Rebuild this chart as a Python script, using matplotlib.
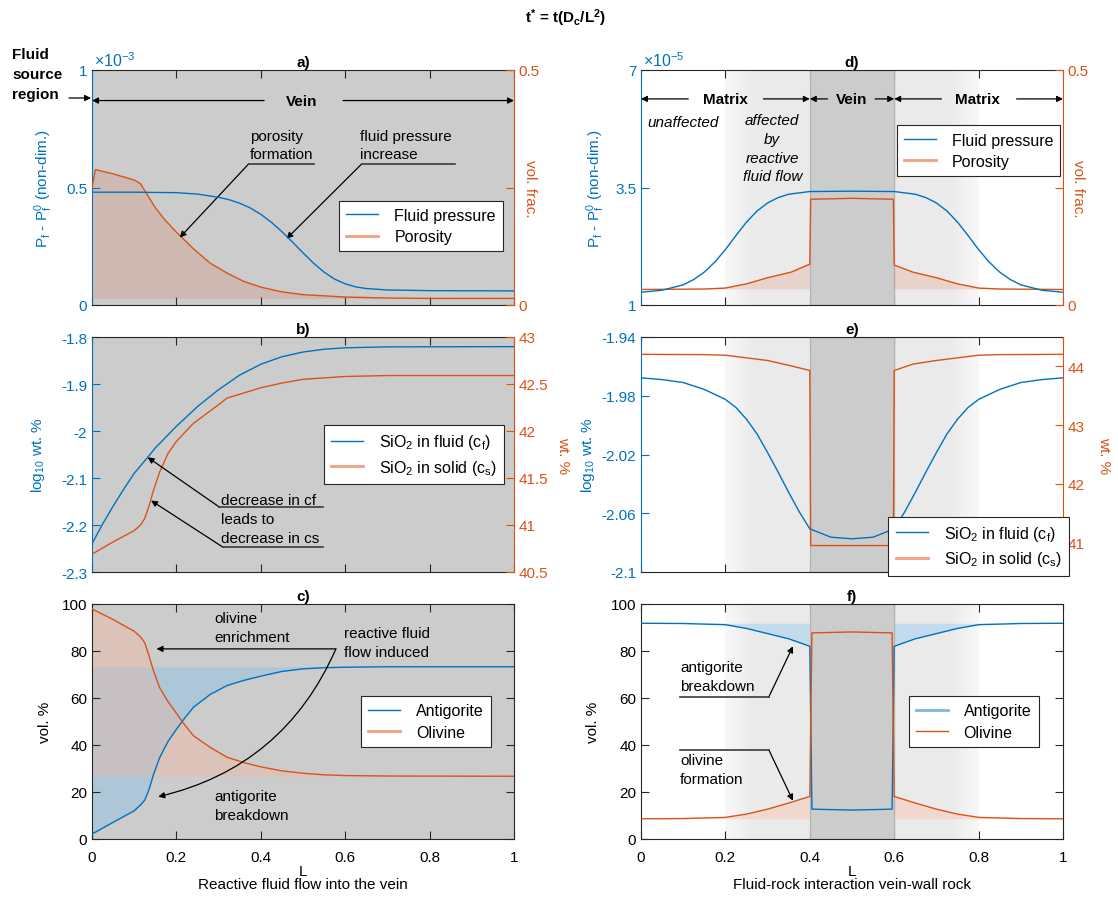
import numpy as np
import matplotlib
matplotlib.use("Agg")
import matplotlib.pyplot as plt
from matplotlib.lines import Line2D
from matplotlib.patches import Rectangle

plt.rcParams.update({
    "font.family": ["Liberation Sans", "DejaVu Sans"],
    "mathtext.fontset": "custom",
    "mathtext.rm": "Liberation Sans",
    "mathtext.it": "Liberation Sans:italic",
    "mathtext.bf": "Liberation Sans:bold",
    "axes.unicode_minus": False,
    "font.size": 11,
})

BLUE = "#0072BD"
ORANGE = "#D95319"
BLUE_SOFT = "#7DB6DC"
ORANGE_SOFT = "#EFA07E"
GRAY = "#CCCCCC"
DARK = "#262626"
LS = 1.42  # line spacing of the multi-line notes

# ---------------- a) vein: fluid pressure (x1e-3) and porosity
L_a_press = [0, 0.1, 0.2, 0.25, 0.3, 0.325, 0.35, 0.375, 0.4, 0.425, 0.45, 0.475,
             0.5, 0.525, 0.55, 0.575, 0.6, 0.625, 0.65, 0.7, 0.8, 1.0]
press_a = [0.48, 0.48, 0.478, 0.472, 0.458, 0.448, 0.433, 0.413, 0.386, 0.352,
           0.312, 0.268, 0.222, 0.178, 0.14, 0.11, 0.09, 0.077, 0.07, 0.064, 0.061,
           0.06]
L_a_por = [0, 0.008, 0.05, 0.1, 0.115, 0.13, 0.15, 0.17, 0.2, 0.24, 0.28, 0.32,
           0.36, 0.4, 0.45, 0.5, 0.6, 0.7, 0.8, 1.0]
por_a = [0.249, 0.288, 0.279, 0.266, 0.258, 0.236, 0.207, 0.184, 0.155, 0.12, 0.089,
         0.068, 0.05, 0.038, 0.028, 0.022, 0.017, 0.0148, 0.014, 0.014]

# ---------------- b) vein: SiO2 in fluid (log10 wt.%) and in solid (wt.%)
L_b_cf = [0, 0.025, 0.05, 0.075, 0.1, 0.132, 0.15, 0.2, 0.25, 0.3, 0.35, 0.4, 0.45,
          0.5, 0.55, 0.6, 0.7, 1.0]
cf_b = [-2.24, -2.198, -2.16, -2.124, -2.09, -2.056, -2.036, -1.99, -1.948, -1.912,
        -1.881, -1.858, -1.842, -1.832, -1.826, -1.823, -1.821, -1.8205]
L_b_cs = [0, 0.05, 0.1, 0.115, 0.125, 0.135, 0.145, 0.16, 0.18, 0.2, 0.24, 0.3,
          0.32, 0.4, 0.45, 0.5, 0.6, 0.7, 1.0]
cs_b = [40.69, 40.82, 40.94, 41.0, 41.07, 41.2, 41.36, 41.56, 41.76, 41.89, 42.08,
        42.28, 42.35, 42.46, 42.51, 42.55, 42.58, 42.59, 42.59]

# ---------------- c) vein: mineral modes (vol.%)
L_c = [0, 0.05, 0.1, 0.115, 0.125, 0.135, 0.145, 0.16, 0.18, 0.2, 0.22, 0.24, 0.28,
       0.32, 0.36, 0.4, 0.45, 0.5, 0.55, 0.6, 0.7, 1.0]
atg_c = [2.1, 7.1, 12.0, 14.5, 16.5, 21.0, 27.0, 34.5, 41.5, 46.7, 51.5, 56.0, 61.5,
         65.3, 67.5, 69.3, 71.3, 72.4, 72.9, 73.1, 73.3, 73.3]
ol_c = [97.9, 93.4, 88.4, 86.0, 83.5, 78.0, 72.0, 64.5, 58.5, 53.5, 48.5, 44.0, 39.0,
        34.8, 32.5, 30.7, 29.0, 28.0, 27.3, 27.0, 26.8, 26.7]

# ---------------- d) vein-wall rock: fluid pressure (x1e-5) and porosity
L_d_press = [0, 0.05, 0.1, 0.125, 0.15, 0.175, 0.2, 0.225, 0.25, 0.275, 0.3, 0.325,
             0.35, 0.4, 0.5, 0.6, 0.65, 0.675, 0.7, 0.725, 0.75, 0.775, 0.8, 0.825,
             0.85, 0.875, 0.9, 0.95, 1.0]
press_d = [0.38, 0.44, 0.6, 0.76, 0.98, 1.28, 1.65, 2.07, 2.47, 2.8, 3.04, 3.2, 3.3,
           3.38, 3.39, 3.38, 3.3, 3.2, 3.04, 2.8, 2.47, 2.07, 1.65, 1.28, 0.98, 0.76,
           0.6, 0.44, 0.38]
L_d_por = [0, 0.15, 0.2, 0.25, 0.3, 0.356, 0.4, 0.402, 0.5, 0.598, 0.6, 0.644, 0.7,
           0.75, 0.8, 0.85, 1.0]
por_d = [0.033, 0.034, 0.036, 0.045, 0.058, 0.07, 0.087, 0.225, 0.227, 0.225, 0.085,
         0.07, 0.058, 0.045, 0.036, 0.034, 0.033]

# ---------------- e) vein-wall rock: SiO2 in fluid and in solid
L_e_cf = [0, 0.05, 0.1, 0.15, 0.2, 0.225, 0.25, 0.275, 0.3, 0.325, 0.35, 0.375, 0.4,
          0.45, 0.5, 0.55, 0.6, 0.625, 0.65, 0.675, 0.7, 0.725, 0.75, 0.775, 0.8,
          0.85, 0.9, 0.95, 1.0]
cf_e = [-1.9678, -1.969, -1.971, -1.9757, -1.9825, -1.988, -1.996, -2.006, -2.0187,
        -2.032, -2.0458, -2.059, -2.0706, -2.0763, -2.0774, -2.0763, -2.0706, -2.059,
        -2.0458, -2.032, -2.0187, -2.006, -1.996, -1.988, -1.9825, -1.9757, -1.971,
        -1.969, -1.9678]
L_e_cs = [0, 0.15, 0.2, 0.3, 0.355, 0.4, 0.402, 0.5, 0.598, 0.6, 0.645, 0.7, 0.8,
          0.85, 1.0]
cs_e = [44.205, 44.2, 44.19, 44.1, 44.01, 43.93, 40.95, 40.95, 40.95, 43.93, 44.04,
        44.1, 44.19, 44.2, 44.205]

# ---------------- f) vein-wall rock: mineral modes (vol.%)
L_f = [0, 0.1, 0.2, 0.25, 0.3, 0.35, 0.4, 0.405, 0.5, 0.595, 0.6, 0.65, 0.7, 0.75,
       0.8, 0.9, 1.0]
atg_f = [91.8, 91.7, 91.2, 89.6, 87.4, 85.2, 82.0, 12.7, 12.3, 12.7, 82.0, 85.2, 87.4,
         89.6, 91.2, 91.7, 91.8]
ol_f = [8.6, 8.7, 9.2, 10.6, 12.7, 15.3, 18.1, 87.7, 88.1, 87.7, 18.1, 15.3, 12.7,
        10.6, 9.2, 8.7, 8.6]

X_TICKS = [0, 0.2, 0.4, 0.6, 0.8, 1.0]
X_LABELS = ["0", "0.2", "0.4", "0.6", "0.8", "1"]

W, H = 1118, 920
fig = plt.figure(figsize=(W / 100, H / 100), dpi=100)


def box(x0, y0, x1, y1):
    return [x0 / W, 1 - y1 / H, (x1 - x0) / W, (y1 - y0) / H]


COLS = [(92, 514), (641, 1063)]
ROWS = [(71, 306), (338, 573), (605, 840)]


def base_axes(col, row, facecolor, title, xlabels=False):
    ax = fig.add_axes(box(COLS[col][0], ROWS[row][0], COLS[col][1], ROWS[row][1]))
    ax.set_facecolor(facecolor)
    ax.set_xlim(0, 1)
    ax.set_xticks(X_TICKS)
    ax.set_xticklabels(X_LABELS)
    ax.tick_params(axis="x", direction="in", top=True, bottom=True, length=6,
                   width=0.8, color=DARK, labelsize=11, pad=8,
                   labelbottom=xlabels)
    for s in ax.spines.values():
        s.set_linewidth(0.8)
        s.set_color(DARK)
    ax.set_title(title, fontsize=11, fontweight="bold", pad=3)
    if xlabels:
        ax.set_xlabel("L", fontsize=11, labelpad=0)
    return ax


def add_twin(ax):
    ax2 = ax.twinx()
    ax.spines["left"].set_color(BLUE)
    ax.spines["right"].set_visible(False)
    ax.tick_params(axis="y", direction="in", length=6, width=0.8, colors=BLUE,
                   labelsize=11, left=True, right=False)
    for s in ("left", "top", "bottom"):
        ax2.spines[s].set_visible(False)
    ax2.spines["right"].set_color(ORANGE)
    ax2.spines["right"].set_linewidth(0.8)
    ax2.tick_params(axis="y", direction="in", length=6, width=0.8, colors=ORANGE,
                    labelsize=11)
    return ax2


def plain_y(ax):
    ax.set_ylim(0, 100)
    ax.set_yticks([0, 20, 40, 60, 80, 100])
    ax.tick_params(axis="y", direction="in", left=True, right=True, length=6,
                   width=0.8, color=DARK, labelsize=11)
    ax.set_ylabel("vol. %", fontsize=11)


def arrow(ax, tail, head, coords, rad=0.0):
    ax.annotate("", xy=head, xycoords=coords, xytext=tail, textcoords=coords,
                arrowprops=dict(arrowstyle="-|>", color="k", lw=0.9,
                                mutation_scale=9, shrinkA=0, shrinkB=0,
                                connectionstyle=f"arc3,rad={rad}"),
                annotation_clip=False)


def rule(ax, xs, y, coords):
    ax.plot(xs, [y, y], transform=coords, color="#3a3a3a", lw=1.2, clip_on=False,
            zorder=6)


def legend(ax, labels, soft, center):
    handles = []
    for i, lab in enumerate(labels):
        base = BLUE if i == 0 else ORANGE
        if i == soft:
            handles.append(Line2D([], [], color=BLUE_SOFT if i == 0 else ORANGE_SOFT,
                                  lw=2))
        else:
            handles.append(Line2D([], [], color=base, lw=1))
    leg = ax.legend(handles, labels, loc="center", bbox_to_anchor=center,
                    fontsize=11.5, handlelength=2.0, handletextpad=1.0,
                    borderpad=0.45, labelspacing=0.4, frameon=True,
                    fancybox=False, edgecolor=DARK, framealpha=1,
                    borderaxespad=0)
    leg.get_frame().set_linewidth(0.8)
    leg.set_zorder(10)


def matrix_background(ax, ylim):
    Lg = np.linspace(0, 1, 1001)
    shade = np.ones_like(Lg)
    left = (Lg >= 0.2) & (Lg < 0.4)
    right = (Lg > 0.6) & (Lg <= 0.8)
    shade[left] = np.clip(0.97 - (Lg[left] - 0.2) / 0.07 * 0.05, 0.92, 1)
    shade[right] = np.clip(0.97 - (0.8 - Lg[right]) / 0.07 * 0.05, 0.92, 1)
    img = np.repeat(shade[None, :, None], 3, axis=2)
    ax.imshow(img, extent=(0, 1, ylim[0], ylim[1]), aspect="auto",
              interpolation="bilinear", origin="lower", zorder=0)
    ax.add_patch(Rectangle((0.4, 0), 0.2, 1, transform=ax.get_xaxis_transform(),
                           facecolor=GRAY, edgecolor="#b3b3b3", lw=1, zorder=2))
    ax.set_xlim(0, 1)
    ax.set_ylim(*ylim)


# ================= a)
ax = base_axes(0, 0, GRAY, "a)")
ax2 = add_twin(ax)
ax2.fill_between(L_a_por, por_a, min(por_a), color=ORANGE, alpha=0.15, lw=0, zorder=1)
ax2.plot(L_a_por, por_a, color=ORANGE, lw=1, zorder=3)
ax2.plot(L_a_press, press_a, color=BLUE, lw=1, zorder=4, transform=ax.transData)
ax.set_ylim(0, 1)
ax.set_yticks([0, 0.5, 1])
ax.set_yticklabels(["0", "0.5", "1"])
ax2.set_ylim(0, 0.5)
ax2.set_yticks([0, 0.25, 0.5])
ax2.set_yticklabels(["0", "", "0.5"])
ax.set_ylabel(r"P$_\mathrm{f}$ - P$_\mathrm{f}^\mathrm{0}$ (non-dim.)", color=BLUE,
              fontsize=11)
ax.yaxis.set_label_coords(-0.087, 0.5)
ax2.set_ylabel("vol. frac.", color=ORANGE, fontsize=11, rotation=270, va="bottom")
ax2.yaxis.set_label_coords(1.021, 0.5)
ax.text(0.005, 1.005, "×10$^{-3}$", transform=ax.transAxes, color=BLUE,
        fontsize=11.5, ha="left", va="bottom")
T = ax2.transAxes
ax2.text(0.375, 0.612, "porosity\nformation", transform=T, ha="left", va="bottom",
         fontsize=11, linespacing=LS, zorder=6)
rule(ax2, [0.371, 0.527], 0.60, T)
arrow(ax2, (0.371, 0.60), (0.208, 0.287), T)
ax2.text(0.636, 0.612, "fluid pressure\nincrease", transform=T, ha="left",
         va="bottom", fontsize=11, linespacing=LS, zorder=6)
rule(ax2, [0.639, 0.86], 0.60, T)
arrow(ax2, (0.639, 0.60), (0.461, 0.282), T)
ax2.text(0.497, 0.87, "Vein", transform=T, ha="center", va="center", fontsize=11,
         fontweight="bold", zorder=6)
arrow(ax2, (0.408, 0.87), (0.0, 0.87), T)
arrow(ax2, (0.595, 0.87), (1.0, 0.87), T)
legend(ax2, ["Fluid pressure", "Porosity"], 1, (0.78, 0.336))

fig.text(12 / W, 1 - 55 / H, "Fluid", fontsize=11, fontweight="bold", va="center")
fig.text(12 / W, 1 - 75 / H, "source", fontsize=11, fontweight="bold", va="center")
fig.text(12 / W, 1 - 95 / H, "region", fontsize=11, fontweight="bold", va="center")
arrow(ax, (69 / W, 1 - 99 / H), (91 / W, 1 - 99 / H), "figure fraction")

# ================= b)
ax = base_axes(0, 1, GRAY, "b)")
ax2 = add_twin(ax)
ax2.plot(L_b_cs, cs_b, color=ORANGE, lw=1, zorder=3)
ax2.plot(L_b_cf, cf_b, color=BLUE, lw=1, zorder=4, transform=ax.transData)
ax.set_ylim(-2.3, -1.8)
ax.set_yticks([-2.3, -2.2, -2.1, -2.0, -1.9, -1.8])
ax.set_yticklabels(["-2.3", "-2.2", "-2.1", "-2", "-1.9", "-1.8"])
ax2.set_ylim(40.5, 43)
ax2.set_yticks([40.5, 41, 41.5, 42, 42.5, 43])
ax2.set_yticklabels(["40.5", "41", "41.5", "42", "42.5", "43"])
ax.set_ylabel(r"log$_{10}$ wt. %", color=BLUE, fontsize=11)
ax.yaxis.set_label_coords(-0.107, 0.5)
ax2.set_ylabel("wt. %", color=ORANGE, fontsize=11, rotation=270, va="bottom")
ax2.yaxis.set_label_coords(1.10, 0.5)
T = ax2.transAxes
ax2.text(0.306, 0.226, "decrease in cf\nleads to\ndecrease in cs", transform=T,
         ha="left", va="center", fontsize=11, linespacing=LS, zorder=6)
rule(ax2, [0.302, 0.548], 0.276, T)
rule(ax2, [0.31, 0.548], 0.106, T)
arrow(ax2, (0.302, 0.276), (0.132, 0.488), T)
arrow(ax2, (0.31, 0.106), (0.14, 0.304), T)
legend(ax2, [r"SiO$_2$ in fluid (c$_\mathrm{f}$)", r"SiO$_2$ in solid (c$_\mathrm{s}$)"],
       1, (0.7625, 0.50))

# ================= c)
ax = base_axes(0, 2, GRAY, "c)", xlabels=True)
plain_y(ax)
ax.yaxis.set_label_coords(-0.095, 0.5)
ax.fill_between(L_c, atg_c, max(atg_c), color="#6BBEF4", alpha=0.3, lw=0, zorder=1)
ax.fill_between(L_c, ol_c, min(ol_c), color="#FFB193", alpha=0.3, lw=0, zorder=1)
ax.plot(L_c, atg_c, color=BLUE, lw=1, zorder=3)
ax.plot(L_c, ol_c, color=ORANGE, lw=1, zorder=3)
ax.text(0.29, 90.1, "olivine\nenrichment", ha="left", va="center", fontsize=11,
        linespacing=LS, zorder=6)
ax.text(0.596, 83.5, "reactive fluid\nflow induced", ha="left", va="center",
        fontsize=11, linespacing=LS, zorder=6)
ax.text(0.29, 14.2, "antigorite\nbreakdown", ha="left", va="center", fontsize=11,
        linespacing=LS, zorder=6)
arrow(ax, (0.578, 80.9), (0.153, 80.9), "data")
arrow(ax, (0.578, 80.9), (0.157, 18.0), "data", rad=-0.25)
legend(ax, ["Antigorite", "Olivine"], 1, (0.792, 0.50))

# ================= d)
ax = base_axes(1, 0, "white", "d)")
ax2 = add_twin(ax)
matrix_background(ax, (0, 7))
mask_d = [(x <= 0.4) or (x >= 0.6) for x in L_d_por]
ax2.fill_between(L_d_por, por_d, min(por_d), where=mask_d, color=ORANGE,
                 alpha=0.15, lw=0, zorder=1)
ax2.plot(L_d_por, por_d, color=ORANGE, lw=1, zorder=3)
ax2.plot(L_d_press, press_d, color=BLUE, lw=1, zorder=4, transform=ax.transData)
ax.set_ylim(0, 7)
ax.set_yticks([0, 3.5, 7])
ax.set_yticklabels(["1", "3.5", "7"])
ax2.set_ylim(0, 0.5)
ax2.set_yticks([0, 0.25, 0.5])
ax2.set_yticklabels(["0", "", "0.5"])
ax.set_ylabel(r"P$_\mathrm{f}$ - P$_\mathrm{f}^\mathrm{0}$ (non-dim.)", color=BLUE,
              fontsize=11)
ax.yaxis.set_label_coords(-0.08, 0.5)
ax2.set_ylabel("vol. frac.", color=ORANGE, fontsize=11, rotation=270, va="bottom")
ax2.yaxis.set_label_coords(1.019, 0.5)
ax.text(0.005, 1.005, "×10$^{-5}$", transform=ax.transAxes, color=BLUE,
        fontsize=11.5, ha="left", va="bottom")
T = ax2.transAxes
yr = 0.877
for label, xc in (("Matrix", 0.199), ("Vein", 0.5), ("Matrix", 0.798)):
    ax2.text(xc, yr, label, transform=T, ha="center", va="center", fontsize=11,
             fontweight="bold", zorder=6)
arrow(ax2, (0.112, yr), (0.0, yr), T)
arrow(ax2, (0.29, yr), (0.4, yr), T)
arrow(ax2, (0.442, yr), (0.4, yr), T)
arrow(ax2, (0.555, yr), (0.6, yr), T)
arrow(ax2, (0.712, yr), (0.6, yr), T)
arrow(ax2, (0.89, yr), (1.0, yr), T)
ax2.text(0.1, 0.78, "unaffected", transform=T, ha="center", va="center",
         fontsize=11, style="italic", zorder=6)
ax2.text(0.311, 0.815, "affected\nby\nreactive\nfluid flow", transform=T,
         ha="center", va="top", fontsize=11, style="italic", linespacing=LS,
         zorder=6)
legend(ax2, ["Fluid pressure", "Porosity"], 1, (0.80, 0.656))

# ================= e)
ax = base_axes(1, 1, "white", "e)")
ax2 = add_twin(ax)
matrix_background(ax, (-2.1, -1.94))
ax2.plot(L_e_cs, cs_e, color=ORANGE, lw=1, zorder=3)
ax2.plot(L_e_cf, cf_e, color=BLUE, lw=1, zorder=4, transform=ax.transData)
ax.set_ylim(-2.1, -1.94)
ax.set_yticks([-2.1, -2.06, -2.02, -1.98, -1.94])
ax.set_yticklabels(["-2.1", "-2.06", "-2.02", "-1.98", "-1.94"])
ax2.set_ylim(40.5, 44.5)
ax2.set_yticks([41, 42, 43, 44])
ax2.set_yticklabels(["41", "42", "43", "44"])
ax.set_ylabel(r"log$_{10}$ wt. %", color=BLUE, fontsize=11)
ax.yaxis.set_label_coords(-0.104, 0.5)
ax2.set_ylabel("wt. %", color=ORANGE, fontsize=11, rotation=270, va="bottom")
ax2.yaxis.set_label_coords(1.081, 0.5)
legend(ax2, [r"SiO$_2$ in fluid (c$_\mathrm{f}$)", r"SiO$_2$ in solid (c$_\mathrm{s}$)"],
       1, (0.80, 0.11))

# ================= f)
ax = base_axes(1, 2, "white", "f)", xlabels=True)
matrix_background(ax, (0, 100))
plain_y(ax)
ax.yaxis.set_label_coords(-0.097, 0.5)
ax.fill_between(L_f, atg_f, max(atg_f), color="#6BBEF4", alpha=0.3, lw=0, zorder=1)
ax.fill_between(L_f, ol_f, min(ol_f), color="#FFB193", alpha=0.3, lw=0, zorder=1)
ax.plot(L_f, atg_f, color=BLUE, lw=1, zorder=3)
ax.plot(L_f, ol_f, color=ORANGE, lw=1, zorder=3)
ax.text(0.093, 69.2, "antigorite\nbreakdown", ha="left", va="center", fontsize=11,
        linespacing=LS, zorder=6)
rule(ax, [0.093, 0.303], 60.5, ax.transData)
arrow(ax, (0.303, 60.5), (0.36, 82.0), "data")
ax.text(0.093, 29.7, "olivine\nformation", ha="left", va="center", fontsize=11,
        linespacing=LS, zorder=6)
rule(ax, [0.093, 0.303], 37.9, ax.transData)
arrow(ax, (0.303, 37.9), (0.36, 16.3), "data")
legend(ax, ["Antigorite", "Olivine"], 0, (0.788, 0.50))

# ================= figure texts
fig.text(566 / W, 1 - 18 / H,
         r"t$^\mathbf{*}$ = t(D$_\mathbf{c}$/L$^\mathbf{2}$)", ha="center",
         va="center", fontsize=11, fontweight="bold")
fig.text(303 / W, 1 - 885 / H, "Reactive fluid flow into the vein", ha="center",
         va="center", fontsize=11)
fig.text(852 / W, 1 - 885 / H, "Fluid-rock interaction vein-wall rock",
         ha="center", va="center", fontsize=11)

fig.savefig("out.png", dpi=100)
